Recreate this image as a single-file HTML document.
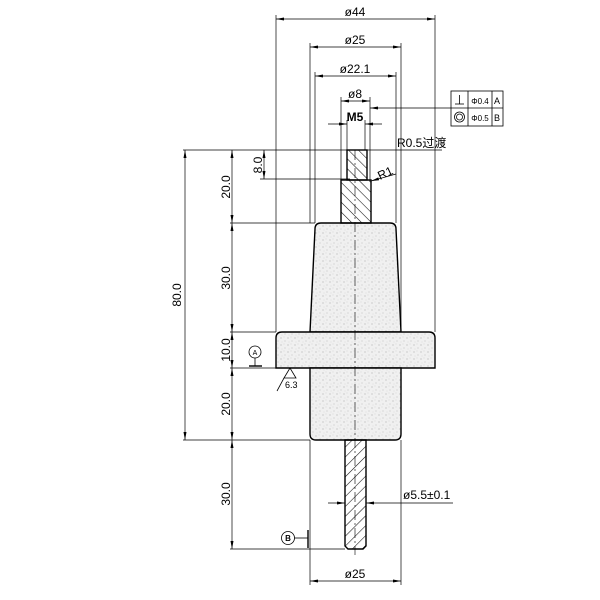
<!DOCTYPE html>
<html><head><meta charset="utf-8"><style>html,body{margin:0;padding:0;background:#fff}svg{display:block}</style></head><body>
<svg width="600" height="600" viewBox="0 0 600 600" xmlns="http://www.w3.org/2000/svg" font-family="'Liberation Sans Narrow','Liberation Sans','Noto Sans CJK SC',sans-serif">
<defs>
<pattern id="sp" width="7" height="7" patternUnits="userSpaceOnUse">
<rect width="7" height="7" fill="#f0f0f0"/>
<circle cx="1" cy="2" r="0.55" fill="#999"/><circle cx="5" cy="5" r="0.45" fill="#aaa"/><circle cx="4" cy="1" r="0.4" fill="#bbb"/><circle cx="2" cy="6" r="0.35" fill="#bbb"/>
</pattern>
<pattern id="h1" width="7" height="7" patternUnits="userSpaceOnUse" patternTransform="rotate(-45)">
<line x1="0" y1="0" x2="0" y2="7" stroke="#111" stroke-width="1.1"/></pattern>
<pattern id="h2" width="7" height="7" patternUnits="userSpaceOnUse" patternTransform="rotate(45)">
<line x1="0" y1="0" x2="0" y2="7" stroke="#111" stroke-width="1.1"/></pattern>
<marker id="a" markerWidth="8" markerHeight="6" refX="8" refY="3" orient="auto-start-reverse" markerUnits="userSpaceOnUse"><path d="M0,1.5 L8,3 L0,4.5z" fill="#000"/></marker>
</defs>
<g stroke="#000" stroke-width="0.7" fill="none">
<line x1="276" y1="15" x2="276" y2="332"/><line x1="435" y1="15" x2="435" y2="332"/>
<line x1="310" y1="43" x2="310" y2="223"/><line x1="401" y1="43" x2="401" y2="332"/>
<line x1="315" y1="72" x2="315" y2="223"/><line x1="396" y1="72" x2="396" y2="223"/>
<line x1="341" y1="97" x2="341" y2="180"/><line x1="370" y1="97" x2="370" y2="180"/>
<line x1="347" y1="120" x2="347" y2="150"/><line x1="365" y1="120" x2="365" y2="150"/>
<line x1="310" y1="440" x2="310" y2="585"/><line x1="401" y1="440" x2="401" y2="585"/>
<line x1="183" y1="150" x2="350" y2="150"/>
<line x1="260" y1="179" x2="350" y2="179"/>
<line x1="230" y1="223" x2="315" y2="223"/>
<line x1="230" y1="332" x2="276" y2="332"/>
<line x1="230" y1="368" x2="276" y2="368"/>
<line x1="183" y1="440" x2="310" y2="440"/>
<line x1="230" y1="549" x2="345" y2="549"/>
<line x1="276" y1="19" x2="435" y2="19" marker-start="url(#a)" marker-end="url(#a)"/>
<line x1="310" y1="47" x2="401" y2="47" marker-start="url(#a)" marker-end="url(#a)"/>
<line x1="315" y1="76" x2="396" y2="76" marker-start="url(#a)" marker-end="url(#a)"/>
<line x1="341" y1="101" x2="370" y2="101" marker-start="url(#a)" marker-end="url(#a)"/>
<line x1="328" y1="124" x2="347" y2="124" marker-end="url(#a)"/><line x1="382" y1="124" x2="365" y2="124" marker-end="url(#a)"/>
<line x1="185" y1="150" x2="185" y2="440" marker-start="url(#a)" marker-end="url(#a)"/>
<line x1="264" y1="150" x2="264" y2="179" marker-start="url(#a)" marker-end="url(#a)"/>
<line x1="232" y1="150" x2="232" y2="223" marker-start="url(#a)" marker-end="url(#a)"/>
<line x1="232" y1="223" x2="232" y2="332" marker-start="url(#a)" marker-end="url(#a)"/>
<line x1="232" y1="332" x2="232" y2="368" marker-start="url(#a)" marker-end="url(#a)"/>
<line x1="232" y1="368" x2="232" y2="440" marker-start="url(#a)" marker-end="url(#a)"/>
<line x1="232" y1="440" x2="232" y2="549" marker-start="url(#a)" marker-end="url(#a)"/>
<line x1="310" y1="581" x2="401" y2="581" marker-start="url(#a)" marker-end="url(#a)"/>
<line x1="328" y1="503" x2="345" y2="503" marker-end="url(#a)"/><line x1="453" y1="503" x2="366" y2="503" marker-end="url(#a)"/>
<line x1="451" y1="108" x2="370" y2="108" marker-end="url(#a)"/>
<line x1="442" y1="150" x2="367" y2="150"/>
<line x1="396" y1="174" x2="371" y2="181" marker-end="url(#a)"/>
</g>
<g stroke="#000" stroke-width="1.4">
<path d="M321,223 L390,223 Q396,223 396,229 L401,332 L310,332 L315,229 Q315,223 321,223Z" fill="url(#sp)"/>
<path d="M282,332 L429,332 Q435,332 435,338 L435,368 L276,368 L276,338 Q276,332 282,332Z" fill="url(#sp)"/>
<path d="M310,368 L401,368 L401,434 Q401,440 395,440 L316,440 Q310,440 310,434Z" fill="url(#sp)"/>
<rect x="347" y="150" width="20" height="30" fill="url(#h1)"/>
<rect x="341" y="180" width="30" height="43" fill="url(#h1)"/>
<path d="M345,440 L366,440 L366,546 L363,549 L348,549 L345,546Z" fill="url(#h2)"/>
</g>
<line x1="355" y1="150" x2="355" y2="555" stroke="#000" stroke-width="0.6" stroke-dasharray="10,3,2,3"/>
<g stroke="#000" stroke-width="0.8" fill="none">
<circle cx="255" cy="352" r="6"/><line x1="255" y1="358" x2="255" y2="366"/>
<line x1="249" y1="366" x2="262" y2="366" stroke-width="1.4"/>
<path d="M290,368 L284,378 L296,378Z"/><line x1="284" y1="378" x2="277" y2="391"/>
<circle cx="288" cy="538" r="6.5"/><line x1="294.5" y1="538" x2="308" y2="538"/>
<line x1="308" y1="530" x2="308" y2="548" stroke-width="1.4"/>
<rect x="451" y="91" width="52" height="35"/><line x1="451" y1="108" x2="503" y2="108"/>
<line x1="468" y1="91" x2="468" y2="126"/><line x1="492" y1="91" x2="492" y2="126"/>
<line x1="459.5" y1="95" x2="459.5" y2="104"/><line x1="455" y1="104" x2="464" y2="104"/>
<circle cx="459.5" cy="117" r="5"/><circle cx="459.5" cy="117" r="3"/>
</g>
<g font-size="12" fill="#000">
<text x="355" y="16" text-anchor="middle">ø44</text>
<text x="355" y="44" text-anchor="middle">ø25</text>
<text x="355" y="73" text-anchor="middle">ø22.1</text>
<text x="355" y="98" text-anchor="middle">ø8</text>
<text x="355" y="121" text-anchor="middle" font-weight="bold">M5</text>
<text x="397" y="147">R0.5过渡</text>
<text x="380" y="180" transform="rotate(-25 380 180)">R1</text>
<text x="403" y="499">ø5.5±0.1</text>
<text x="355" y="578" text-anchor="middle">ø25</text>
<text x="480" y="104" font-size="8" text-anchor="middle">Φ0.4</text><text x="497" y="104" font-size="9" text-anchor="middle">A</text>
<text x="480" y="121" font-size="8" text-anchor="middle">Φ0.5</text><text x="497" y="121" font-size="9" text-anchor="middle">B</text>
<text x="255" y="355" font-size="7" text-anchor="middle">A</text>
<text x="288" y="541" font-size="8" text-anchor="middle" font-weight="bold">B</text>
<text x="285" y="388" font-size="9">6.3</text>
<text transform="translate(181,295) rotate(-90)" text-anchor="middle">80.0</text>
<text transform="translate(262,165) rotate(-90)" text-anchor="middle">8.0</text>
<text transform="translate(230,187) rotate(-90)" text-anchor="middle">20.0</text>
<text transform="translate(230,278) rotate(-90)" text-anchor="middle">30.0</text>
<text transform="translate(230,350) rotate(-90)" text-anchor="middle">10.0</text>
<text transform="translate(230,404) rotate(-90)" text-anchor="middle">20.0</text>
<text transform="translate(230,494) rotate(-90)" text-anchor="middle">30.0</text>
</g>
</svg>
</body></html>
